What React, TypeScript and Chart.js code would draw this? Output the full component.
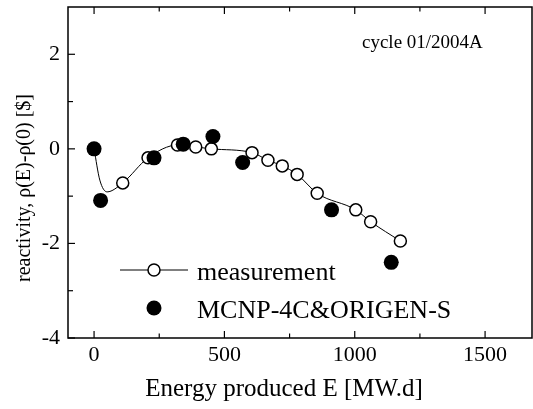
import React, { useEffect, useRef } from 'react';
import { Chart, registerables } from 'chart.js';

Chart.register(...registerables);

// ---- data ----
const MEAS_E = [0, 110, 207, 320, 390, 450, 606, 667, 722, 779, 856, 1004, 1061, 1175];
const MEAS_R = [0, -0.72, -0.19, 0.08, 0.04, 0.0, -0.08, -0.24, -0.36, -0.54, -0.94, -1.29, -1.54, -1.95];
// knots of the drawn curve's initial dip (no marker)
const CURVE_KNOT_E = [22, 50];
const CURVE_KNOT_R = [-0.66, -0.91];
const MCNP_E = [0, 25, 230, 342, 456, 570, 911, 1140];
const MCNP_R = [0, -1.09, -0.19, 0.1, 0.26, -0.29, -1.29, -2.4];

const X_TICKS = [0, 500, 1000, 1500];
const X_MINOR = [250, 750, 1250];
const Y_TICKS = [-4, -2, 0, 2];
const Y_MINOR = [-3, -1, 1];

const X_TITLE = 'Energy produced E [MW.d]';
const Y_TITLE = 'reactivity, \u03c1(E)-\u03c1(0) [$]';
const NOTE = 'cycle 01/2004A';
const MEAS_LABEL = 'measurement';
const MCNP_LABEL = 'MCNP-4C&ORIGEN-S';

const FONT = '"Liberation Serif", "Times New Roman", serif';

const zeroPad = (s: any) => {
  s.paddingTop = 0;
  s.paddingBottom = 0;
  s.paddingLeft = 0;
  s.paddingRight = 0;
};

export default function App() {
  const ref = useRef<HTMLCanvasElement>(null);

  useEffect(() => {
    const canvas = ref.current;
    if (!canvas) return;

    const curve = MEAS_E.map((x, i) => ({ x, y: MEAS_R[i] }))
      .concat(CURVE_KNOT_E.map((x, i) => ({ x, y: CURVE_KNOT_R[i] })))
      .sort((a, b) => a.x - b.x);

    const overlay = {
      id: 'overlay',
      afterDraw(chart: any) {
        const { ctx, chartArea: a, scales } = chart;
        const xs = scales.x;
        const ys = scales.y;
        ctx.save();
        ctx.strokeStyle = '#000';
        ctx.fillStyle = '#000';
        ctx.lineWidth = 1.5;
        ctx.strokeRect(a.left, a.top, a.right - a.left, a.bottom - a.top);
        ctx.lineWidth = 1.2;
        const seg = (x1: number, y1: number, x2: number, y2: number) => {
          ctx.beginPath();
          ctx.moveTo(x1, y1);
          ctx.lineTo(x2, y2);
          ctx.stroke();
        };
        X_TICKS.forEach((v) => {
          const p = xs.getPixelForValue(v);
          seg(p, a.bottom, p, a.bottom - 7);
          seg(p, a.top, p, a.top + 7);
        });
        X_MINOR.forEach((v) => {
          const p = xs.getPixelForValue(v);
          seg(p, a.bottom, p, a.bottom - 4.5);
          seg(p, a.top, p, a.top + 4.5);
        });
        Y_TICKS.forEach((v) => {
          const p = ys.getPixelForValue(v);
          seg(a.left, p, a.left + 7, p);
        });
        Y_MINOR.forEach((v) => {
          const p = ys.getPixelForValue(v);
          seg(a.left, p, a.left + 5, p);
        });

        // legend
        ctx.lineWidth = 1;
        seg(120, 270, 188, 270);
        ctx.beginPath();
        ctx.arc(154, 270, 6, 0, Math.PI * 2);
        ctx.fillStyle = '#fff';
        ctx.fill();
        ctx.lineWidth = 1.5;
        ctx.stroke();
        ctx.fillStyle = '#000';
        ctx.beginPath();
        ctx.arc(154, 308, 7.5, 0, Math.PI * 2);
        ctx.fill();
        ctx.font = `26px ${FONT}`;
        ctx.textAlign = 'left';
        ctx.textBaseline = 'alphabetic';
        ctx.fillText(MEAS_LABEL, 197, 280);
        ctx.fillText(MCNP_LABEL, 197, 318);

        // note
        ctx.font = `19px ${FONT}`;
        ctx.fillText(NOTE, 362, 48);

        // axis titles
        ctx.font = `25px ${FONT}`;
        ctx.textAlign = 'center';
        ctx.fillText(X_TITLE, 284, 396);
        ctx.save();
        ctx.translate(25, 188);
        ctx.rotate(-Math.PI / 2);
        ctx.font = `20px ${FONT}`;
        ctx.textBaseline = 'middle';
        ctx.fillText(Y_TITLE, 0, 0);
        ctx.restore();
        ctx.restore();
      },
    };

    const chart = new Chart(canvas, {
      type: 'line',
      data: {
        datasets: [
          {
            label: MCNP_LABEL,
            data: MCNP_E.map((x, i) => ({ x, y: MCNP_R[i] })),
            showLine: false,
            pointRadius: 7.5,
            pointBackgroundColor: '#000',
            pointBorderColor: '#000',
            pointBorderWidth: 0,
            order: 0,
          },
          {
            label: MEAS_LABEL,
            data: MEAS_E.map((x, i) => ({ x, y: MEAS_R[i] })),
            showLine: false,
            pointRadius: 6,
            pointBackgroundColor: '#fff',
            pointBorderColor: '#000',
            pointBorderWidth: 1.5,
            order: 1,
          },
          {
            label: 'measurement curve',
            data: curve,
            showLine: true,
            borderColor: '#000',
            borderWidth: 1,
            pointRadius: 0,
            cubicInterpolationMode: 'monotone',
            order: 2,
          },
        ],
      },
      options: {
        responsive: false,
        animation: false,
        events: [],
        layout: { autoPadding: false, padding: { top: 7, right: 1, left: 0, bottom: 0 } },
        plugins: {
          legend: { display: false },
          tooltip: { enabled: false },
        },
        scales: {
          x: {
            type: 'linear',
            min: -100,
            max: 1680,
            grid: { display: false, drawTicks: false },
            border: { display: false },
            afterBuildTicks: (s: any) => {
              s.ticks = X_TICKS.map((v) => ({ value: v }));
            },
            afterFit: (s: any) => {
              s.height = 71;
              zeroPad(s);
            },
            ticks: {
              padding: 4,
              color: '#000',
              maxRotation: 0,
              autoSkip: false,
              font: { family: FONT, size: 22 },
              callback: (v: any) => String(v),
            },
          },
          y: {
            type: 'linear',
            min: -4,
            max: 3,
            grid: { display: false, drawTicks: false },
            border: { display: false },
            afterBuildTicks: (s: any) => {
              s.ticks = Y_TICKS.map((v) => ({ value: v }));
            },
            afterFit: (s: any) => {
              s.width = 68;
              zeroPad(s);
            },
            ticks: {
              padding: 8,
              color: '#000',
              autoSkip: false,
              font: { family: FONT, size: 22 },
              callback: (v: any) => String(v),
            },
          },
        },
      },
      plugins: [overlay],
    } as any);

    return () => chart.destroy();
  }, []);

  return (
    <div style={{ position: 'absolute', left: 0, top: 0, width: 533, height: 409, background: '#fff' }}>
      <canvas ref={ref} width={533} height={409} style={{ display: 'block' }} />
    </div>
  );
}
